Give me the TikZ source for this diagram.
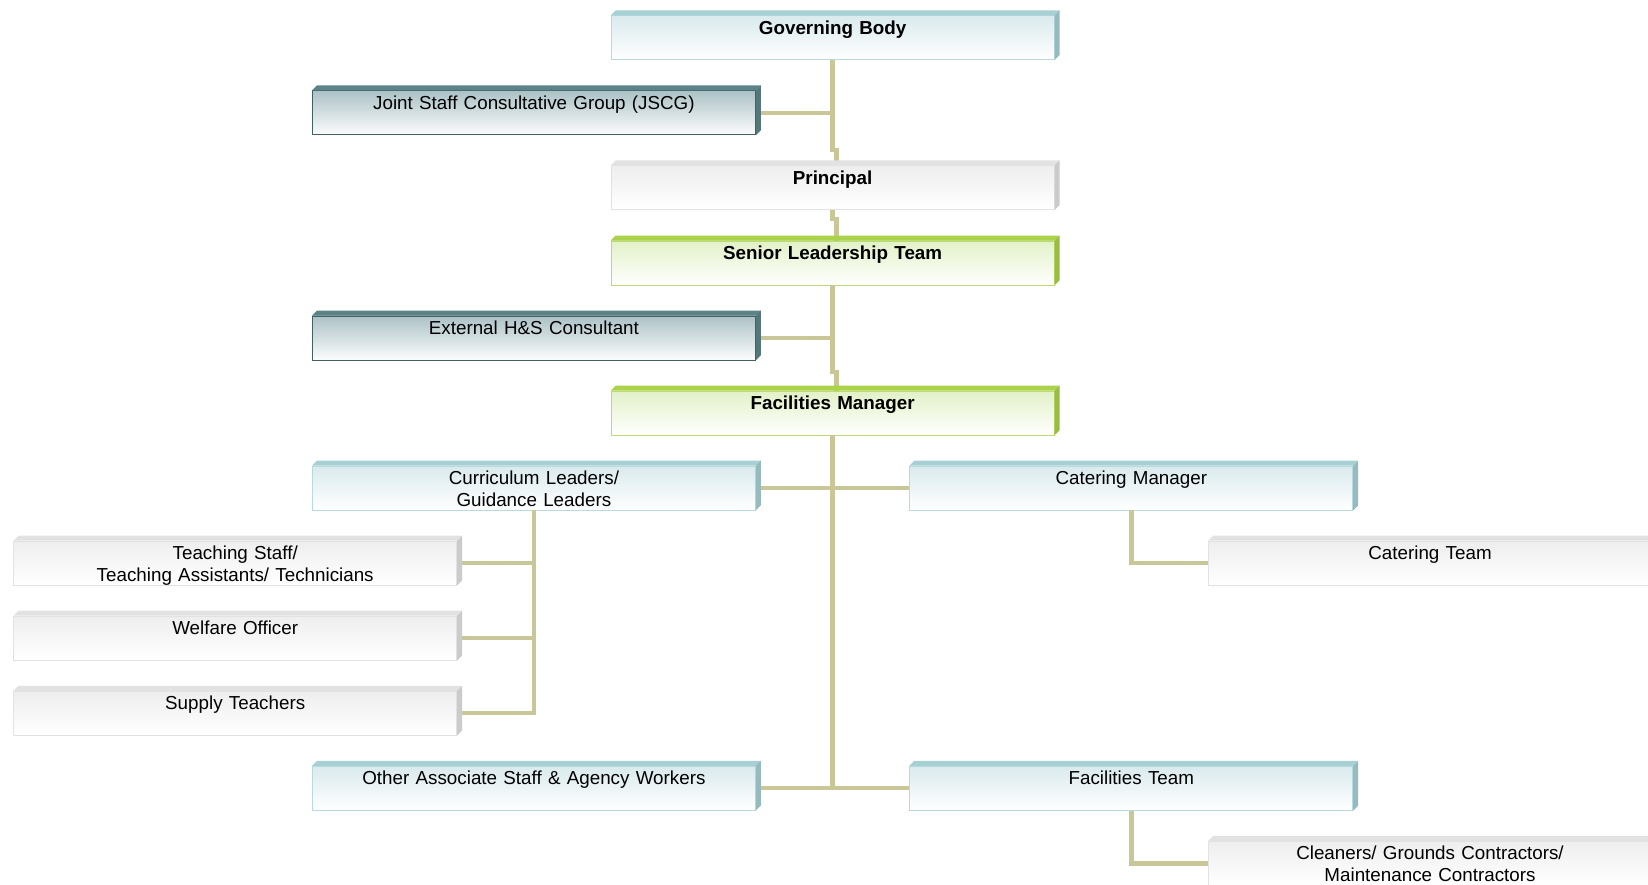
\documentclass[tikz,border=0pt]{standalone}
\usepackage{fontspec}
\setmainfont{Liberation Sans}
\usetikzlibrary{calc}

\definecolor{linkline}{RGB}{201,199,152}
\definecolor{tealedge}{RGB}{166,208,212}
\definecolor{tealface}{RGB}{218,234,237}
\definecolor{slateedge}{RGB}{92,132,136}
\definecolor{slatedraw}{RGB}{66,96,100}
\definecolor{slateface}{RGB}{172,194,198}
\definecolor{greyedge}{RGB}{226,226,226}
\definecolor{greyface}{RGB}{238,238,238}
\definecolor{greenedge}{RGB}{170,210,74}
\definecolor{greenface}{RGB}{226,241,200}

\begin{document}
\begin{tikzpicture}[x=1pt, y=-1pt,
  box/.style={rectangle, inner sep=0pt, text width=443pt, align=center, text height=18.5pt, text depth=25.5pt,
    font=\fontsize{18.8}{22}\selectfont, line width=0.8pt},
  bold/.style={font=\fontsize{18.8}{22}\selectfont\bfseries},
  tealbox/.style={box, draw=tealedge!80, top color=tealface, bottom color=white},
  slatebox/.style={box, draw=slatedraw, top color=slateface, bottom color=white!96!slateface},
  greybox/.style={box, draw=greyedge, top color=greyface, bottom color=white},
  greenbox/.style={box, draw=greenedge!80, top color=greenface, bottom color=white},
  link/.style={draw=linkline, line width=4.5pt}]
  \useasboundingbox (0,0) rectangle (1648,884);
  \node[tealbox, bold] (gov) at (832.6,37.7) {Governing Body};
  \node[slatebox] (jscg) at (533.9,112.8) {Joint Staff Consultative Group (JSCG)};
  \node[greybox, bold] (prin) at (832.6,187.8) {Principal};
  \node[greenbox, bold] (slt) at (832.6,262.9) {Senior Leadership Team};
  \node[slatebox] (hs) at (533.9,337.9) {External H\&S Consultant};
  \node[greenbox, bold] (fm) at (832.6,413) {Facilities Manager};
  \node[tealbox] (curr) at (533.9,488) {Curriculum Leaders/\\Guidance Leaders};
  \node[tealbox] (catm) at (1131.3,488) {Catering Manager};
  \node[greybox] (teach) at (235.2,563.1) {Teaching Staff/\\Teaching Assistants/ Technicians};
  \node[greybox] (cteam) at (1430,563.1) {Catering Team};
  \node[greybox] (welf) at (235.2,638.1) {Welfare Officer};
  \node[greybox] (supply) at (235.2,713.2) {Supply Teachers};
  \node[tealbox] (other) at (533.9,788.2) {Other Associate Staff \& Agency Workers};
  \node[tealbox] (fteam) at (1131.3,788.2) {Facilities Team};
  \node[greybox] (clean) at (1430,863.3) {Cleaners/ Grounds Contractors/\\Maintenance Contractors};

  \coordinate (jog1) at (832.6,150);
  \coordinate (jog2) at (832.6,219);
  \coordinate (jog3) at (832.6,372);
  \draw[link] (gov.south) -- (jog1) -- ++(4,0) -- ([xshift=4pt]prin.north);
  \draw[link] (jscg.east) -- (jscg.east -| gov.south);
  \draw[link] (prin.south) -- (jog2) -- ++(4,0) -- ([xshift=4pt]slt.north);
  \draw[link] (slt.south) -- (jog3) -- ++(4,0) -- ([xshift=4pt]fm.north);
  \draw[link] (hs.east) -- (hs.east -| slt.south);
  \draw[link] (fm.south) -- (fm.south |- other.east);
  \draw[link] (curr.east) -- (catm.west);
  \draw[link] (other.east) -- (fteam.west);
  \draw[link] (curr.south) |- (teach.east);
  \draw[link] (curr.south) |- (welf.east);
  \draw[link] (curr.south) |- (supply.east);
  \draw[link] (catm.south) |- (cteam.west);
  \draw[link] (fteam.south) |- (clean.west);

  \foreach \n/\c in {gov/tealedge, jscg/slateedge, prin/greyedge, slt/greenedge, hs/slateedge,
    fm/greenedge, curr/tealedge, catm/tealedge, teach/greyedge, cteam/greyedge, welf/greyedge,
    supply/greyedge, other/tealedge, fteam/tealedge, clean/greyedge} {
    \fill[\c] (\n.north west) -- ++(5,-5) -- ($(\n.north east)+(5,-5)$) -- (\n.north east) -- cycle;
    \fill[\c!90!black] (\n.north east) -- ++(5,-5) -- ($(\n.south east)+(5,-5)$) -- (\n.south east) -- cycle;
  }
\end{tikzpicture}
\end{document}
